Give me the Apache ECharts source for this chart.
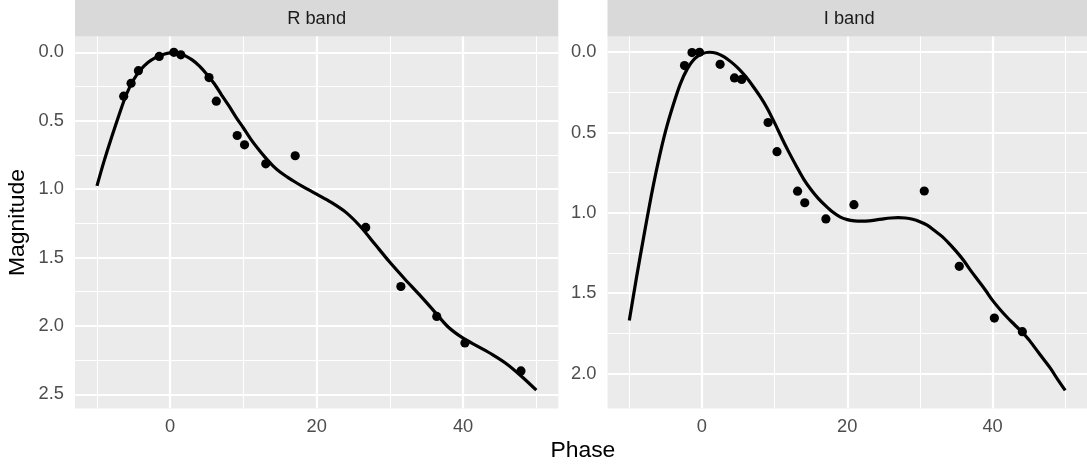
<!DOCTYPE html>
<html>
<head>
<meta charset="utf-8">
<script src="https://cdn.jsdelivr.net/npm/echarts@6/dist/echarts.min.js"></script>
<style>
html,body{margin:0;padding:0;background:#fff;}
#chart{width:1087px;height:467px;}
</style>
</head>
<body>
<div id="chart"></div>
<script>
// ---- data ----
const panelNames = ['R band', 'I band'];

const rPhase = [-6.35, -5.34, -4.34, -1.5, 0.5, 1.45, 5.3, 6.3, 9.15, 10.15, 13.05, 17.07, 26.7, 31.5, 36.4, 40.25, 47.9];
const rMag   = [0.32, 0.226, 0.134, 0.03, 0.0, 0.018, 0.184, 0.357, 0.608, 0.676, 0.815, 0.756, 1.28, 1.712, 1.931, 2.125, 2.329];

const iPhase = [-2.4, -1.37, -0.33, 2.5, 4.48, 5.47, 9.1, 10.33, 13.16, 14.15, 17.06, 20.92, 30.6, 35.42, 40.25, 44.1];
const iMag   = [0.083, 0.002, 0.0, 0.075, 0.16, 0.169, 0.4375, 0.619, 0.865, 0.937, 1.038, 0.949, 0.864, 1.333, 1.655, 1.74];

const rFitPhase = [-10, -9, -8, -7, -6, -5, -4, -3, -2, -1, 0, 1, 2, 3, 4, 5, 6, 7, 8, 9, 10, 11, 12, 13, 14, 15, 16, 17, 18, 19, 20, 22, 24, 26, 28, 30, 32, 34, 36, 38, 40, 42, 44, 46, 48, 50];
const rFitMag   = [0.976, 0.79, 0.62, 0.46, 0.31, 0.2, 0.125, 0.072, 0.038, 0.015, 0.003, 0.005, 0.024, 0.055, 0.1, 0.16, 0.228, 0.31, 0.39, 0.475, 0.553, 0.634, 0.705, 0.77, 0.828, 0.875, 0.912, 0.946, 0.978, 1.008, 1.037, 1.097, 1.17, 1.275, 1.405, 1.535, 1.655, 1.77, 1.89, 2.01, 2.09, 2.15, 2.21, 2.28, 2.37, 2.47];

const iFitPhase = [-10, -9, -8, -7, -6, -5, -4, -3, -2, -1, 0, 1, 2, 3, 4, 5, 6, 7, 8, 9, 10, 11, 12, 13, 14, 15, 16, 17, 18, 19, 20, 21, 22, 23, 24, 25, 26, 27, 28, 29, 30, 31, 32, 33, 34, 35, 36, 37, 38, 39, 40, 41, 42, 43, 44, 45, 46, 47, 48, 49, 50];
const iFitMag   = [1.67, 1.4, 1.145, 0.9, 0.68, 0.49, 0.335, 0.2, 0.102, 0.04, 0.01, 0.0, 0.006, 0.027, 0.06, 0.1, 0.15, 0.21, 0.275, 0.35, 0.44, 0.535, 0.625, 0.71, 0.79, 0.855, 0.91, 0.955, 0.995, 1.025, 1.042, 1.05, 1.052, 1.05, 1.044, 1.037, 1.032, 1.03, 1.032, 1.04, 1.055, 1.077, 1.11, 1.145, 1.19, 1.24, 1.295, 1.36, 1.42, 1.48, 1.545, 1.6, 1.65, 1.695, 1.74, 1.79, 1.85, 1.91, 1.97, 2.04, 2.105];

const xMajorTicks = [0, 20, 40];
const xMinorTicks = [-10, 10, 30, 50];
const rYMajorTicks = [0, 0.5, 1.0, 1.5, 2.0, 2.5];
const rYMinorTicks = [0.25, 0.75, 1.25, 1.75, 2.25];
const iYMajorTicks = [0, 0.5, 1.0, 1.5, 2.0];
const iYMinorTicks = [0.25, 0.75, 1.25, 1.75];

const xTitle = 'Phase';
const yTitle = 'Magnitude';

// ---- layout ----
const FONT = '"Liberation Sans", Arial, sans-serif';
const PANEL_TOP = 36.5, PANEL_H = 372, PANEL_W = 483.3;
const PANEL_LEFTS = [75, 607.5];
const STRIP_H = 36.5;
const X_RANGE = [-13, 53];
const Y_RANGES = [[-0.116, 2.604], [-0.098, 2.218]];

const zip = (a, b) => a.map((v, i) => [v, b[i]]);
const panelPoints = [zip(rPhase, rMag), zip(iPhase, iMag)];
const panelFits = [zip(rFitPhase, rFitMag), zip(iFitPhase, iFitMag)];
const yMajor = [rYMajorTicks, iYMajorTicks];
const yMinor = [rYMinorTicks, iYMinorTicks];

const grids = [], xAxes = [], yAxes = [], series = [], graphics = [];

panelNames.forEach((name, k) => {
  grids.push({
    left: PANEL_LEFTS[k], top: PANEL_TOP, width: PANEL_W, height: PANEL_H,
    show: true, backgroundColor: '#EBEBEB', borderWidth: 0
  });
  xAxes.push({
    type: 'value', gridIndex: k, min: X_RANGE[0], max: X_RANGE[1],
    axisLine: { show: false },
    splitLine: { show: false },
    axisTick: { show: true, customValues: xMajorTicks, length: 5.7, lineStyle: { color: '#333333', width: 2 } },
    axisLabel: { customValues: xMajorTicks, margin: 9.5, color: '#4D4D4D', fontSize: 18.3, fontFamily: FONT,
      formatter: v => String(v) }
  });
  yAxes.push({
    type: 'value', gridIndex: k, inverse: true, min: Y_RANGES[k][0], max: Y_RANGES[k][1],
    axisLine: { show: false },
    splitLine: { show: false },
    axisTick: { show: true, customValues: yMajor[k], length: 5.7, lineStyle: { color: '#333333', width: 2 } },
    axisLabel: { customValues: yMajor[k], margin: 11, color: '#4D4D4D', fontSize: 18.3, fontFamily: FONT,
      formatter: v => Number(v).toFixed(1) }
  });
  const lineMaj = { color: '#FFFFFF', width: 2.2, type: 'solid' };
  const lineMin = { color: '#FFFFFF', width: 1.1, type: 'solid' };
  series.push({
    type: 'line', xAxisIndex: k, yAxisIndex: k, data: [], z: 1, silent: true,
    markLine: {
      z: 1, silent: true, symbol: ['none', 'none'], animation: false, label: { show: false },
      emphasis: { disabled: true },
      data: [
        ...xMinorTicks.map(v => ({ xAxis: v, lineStyle: lineMin })),
        ...yMinor[k].map(v => ({ yAxis: v, lineStyle: lineMin })),
        ...xMajorTicks.map(v => ({ xAxis: v, lineStyle: lineMaj })),
        ...yMajor[k].map(v => ({ yAxis: v, lineStyle: lineMaj }))
      ]
    }
  });
  series.push({
    type: 'line', xAxisIndex: k, yAxisIndex: k, data: panelFits[k], z: 6,
    smooth: 0.3, showSymbol: false, symbol: 'none',
    lineStyle: { color: '#000000', width: 3.2, cap: 'butt', join: 'round' }
  });
  series.push({
    type: 'scatter', xAxisIndex: k, yAxisIndex: k, data: panelPoints[k], z: 7,
    symbol: 'circle', symbolSize: 9.2, itemStyle: { color: '#000000', opacity: 1 }
  });
  // facet strip
  graphics.push({
    type: 'rect', left: PANEL_LEFTS[k], top: 0, silent: true,
    shape: { width: PANEL_W, height: STRIP_H },
    style: { fill: '#D9D9D9' }
  });
  graphics.push({
    type: 'text', x: PANEL_LEFTS[k] + PANEL_W / 2, y: STRIP_H / 2 + 0.5, silent: true,
    style: { text: name, fill: '#1A1A1A', font: '18.3px ' + FONT, textAlign: 'center', textVerticalAlign: 'middle' }
  });
});

// axis titles
graphics.push({
  type: 'text', x: (PANEL_LEFTS[0] + PANEL_LEFTS[1] + PANEL_W) / 2, y: 451, silent: true,
  style: { text: xTitle, fill: '#000000', font: '22.9px ' + FONT, textAlign: 'center', textVerticalAlign: 'middle' }
});
graphics.push({
  type: 'text', x: 17.5, y: PANEL_TOP + PANEL_H / 2, rotation: Math.PI / 2, silent: true,
  style: { text: yTitle, fill: '#000000', font: '22.9px ' + FONT, textAlign: 'center', textVerticalAlign: 'middle' }
});

const chart = echarts.init(document.getElementById('chart'), null, { renderer: 'canvas' });
chart.setOption({
  animation: false,
  backgroundColor: '#FFFFFF',
  grid: grids,
  xAxis: xAxes,
  yAxis: yAxes,
  series: series,
  graphic: graphics
});
</script>
</body>
</html>
